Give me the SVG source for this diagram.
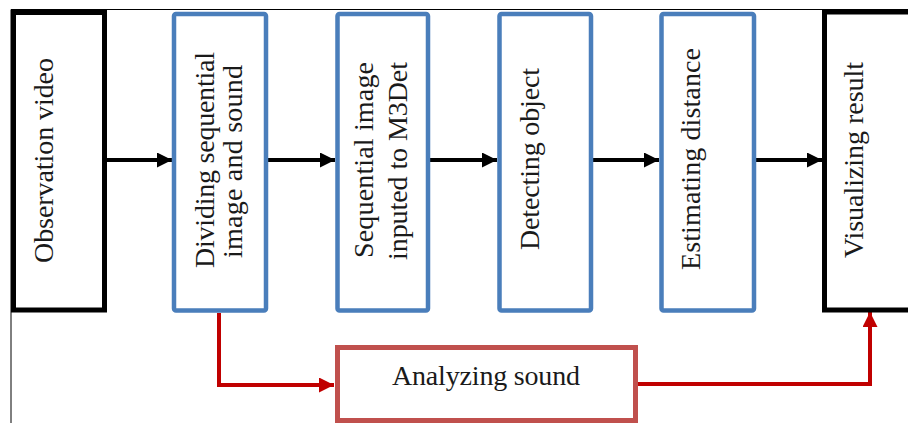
<svg xmlns="http://www.w3.org/2000/svg" width="908" height="423" viewBox="0 0 908 423">
<style>
.blk{fill:#fff;stroke:#000;stroke-width:5}
.blu{fill:#fff;stroke:#4A7EBB;stroke-width:4.5}
.red{fill:#fff;stroke:#C0504D;stroke-width:5}
.t{font-family:"Liberation Serif","DejaVu Serif",serif;font-size:28px;fill:#1a1a1a;text-anchor:middle}
.ka{fill:none;stroke:#000;stroke-width:4}
.ra{fill:none;stroke:#C00000;stroke-width:4}
</style>
<defs>
<marker id="ak" markerUnits="userSpaceOnUse" markerWidth="16" markerHeight="16" refX="15" refY="7.5" orient="auto">
<path d="M0,0 L15,7.5 L0,15 Z" fill="#000"/>
</marker>
<marker id="ar" markerUnits="userSpaceOnUse" markerWidth="16" markerHeight="16" refX="15" refY="7.5" orient="auto">
<path d="M0,0 L15,7.5 L0,15 Z" fill="#C00000"/>
</marker>
</defs>
<rect width="908" height="423" fill="#fff"/>
<path d="M11,423 V9.5 H908" fill="none" stroke="#000" stroke-width="1"/>
<g id="connectors">
<line class="ka" x1="107" y1="160" x2="172" y2="160" marker-end="url(#ak)"/>
<line class="ka" x1="266" y1="160" x2="335" y2="160" marker-end="url(#ak)"/>
<line class="ka" x1="430" y1="160" x2="497" y2="160" marker-end="url(#ak)"/>
<line class="ka" x1="593" y1="160" x2="659" y2="160" marker-end="url(#ak)"/>
<line class="ka" x1="756" y1="160" x2="822" y2="160" marker-end="url(#ak)"/>
<path class="ra" d="M219,313 V385 H334" marker-end="url(#ar)"/>
<path class="ra" d="M638,384 H870 V312" marker-end="url(#ar)"/>
</g>
<g id="n1">
<rect class="blk" x="13.5" y="12.5" width="91" height="297.5"/>
<text class="t" transform="translate(53,160.5) rotate(-90)" textLength="205">Observation video</text>
</g>
<g id="n2">
<rect class="blu" x="174" y="14" width="92" height="296.5" rx="2"/>
<text class="t" transform="translate(214,160) rotate(-90)" textLength="216">Dividing sequential</text>
<text class="t" transform="translate(242,161.5) rotate(-90)" textLength="193">image and sound</text>
</g>
<g id="n3">
<rect class="blu" x="337.5" y="14" width="90.5" height="296.5" rx="2"/>
<text class="t" transform="translate(373,160) rotate(-90)" textLength="196">Sequential image</text>
<text class="t" transform="translate(407,161) rotate(-90)" textLength="198">inputed to M3Det</text>
</g>
<g id="n4">
<rect class="blu" x="499.5" y="14" width="91.5" height="296.5" rx="2"/>
<text class="t" transform="translate(539,159) rotate(-90)" textLength="182">Detecting object</text>
</g>
<g id="n5">
<rect class="blu" x="661.5" y="14" width="92.5" height="296.5" rx="2"/>
<text class="t" transform="translate(700,159) rotate(-90)" textLength="222">Estimating distance</text>
</g>
<g id="n6">
<rect class="blk" x="824.5" y="12" width="100" height="298"/>
<text class="t" transform="translate(863,160) rotate(-90)" textLength="196">Visualizing result</text>
</g>
<g id="n7">
<rect class="red" x="337.5" y="347.5" width="298" height="73"/>
<text class="t" x="486" y="385" textLength="188">Analyzing sound</text>
</g>
</svg>
